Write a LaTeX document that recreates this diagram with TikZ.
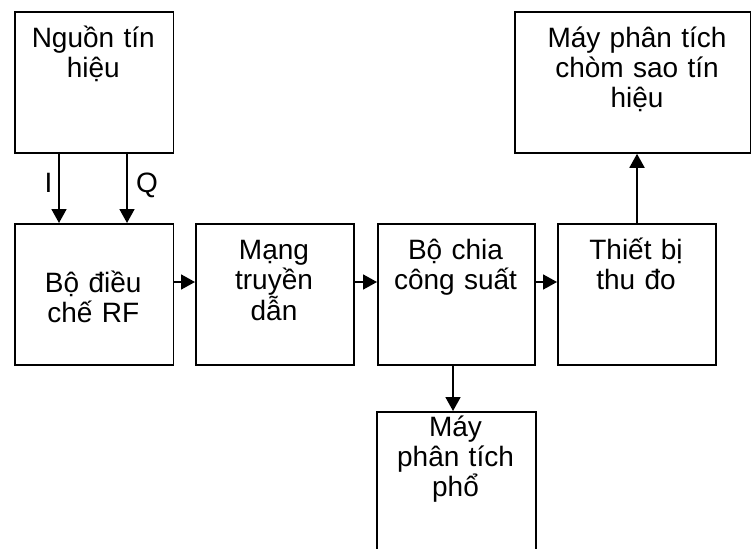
\documentclass[tikz,border=0pt]{standalone}
\usepackage{fontspec}
\setmainfont{Liberation Sans}
\usetikzlibrary{arrows.meta}
\tikzset{
  box/.style={draw, line width=1.8pt, inner sep=0pt, anchor=north west},
  lbl/.style={font=\fontsize{28}{30}\selectfont, text width=220pt, align=center, anchor=base, inner sep=0pt},
  conn/.style={line width=1.8pt, -{Triangle[length=14pt,width=15pt]}},
  iq/.style={font=\fontsize{28}{30}\selectfont, anchor=base, inner sep=0pt},
}
\begin{document}
\begin{tikzpicture}[x=1pt,y=-1pt]
\useasboundingbox (0,0) rectangle (751,548);
\clip (0,0) rectangle (751,548);
% boxes
\node[box, minimum width=158.5pt, minimum height=141pt] (src) at (14,11) {};
\node[box, minimum width=236pt, minimum height=141pt] (const) at (514,11) {};
\node[box, minimum width=158.5pt, minimum height=141pt] (mod) at (14,223) {};
\node[box, minimum width=158pt, minimum height=141pt] (net) at (195,223) {};
\node[box, minimum width=157pt, minimum height=141pt] (div) at (377,223) {};
\node[box, minimum width=158pt, minimum height=141pt] (rx) at (557,223) {};
\node[box, minimum width=159pt, minimum height=160pt] (spec) at (376,411) {};
% texts
\node[lbl] (srcT) at (93.25,48) {Nguồn tín\\hiệu};
\node[lbl] (constT) at (637,48) {Máy phân tích\\chòm sao tín\\hiệu};
\node[lbl] (modT) at (93.25,292) {Bộ điều\\chế RF};
\node[lbl] (netT) at (274,259) {Mạng\\truyền\\dẫn};
\node[lbl] (divT) at (455.5,259) {Bộ chia\\công suất};
\node[lbl] (rxT) at (636,259) {Thiết bị\\thu đo};
\node[lbl] (specT) at (455.5,436) {Máy\\phân tích\\phổ};
% connectors
\coordinate (iS) at (59,152);
\coordinate (iE) at (59,223);
\coordinate (qS) at (127,152);
\coordinate (qE) at (127,223);
\draw[conn] (iS) -- (iE);
\draw[conn] (qS) -- (qE);
\node[iq] (lI) at (48.5,192) {I};
\node[iq] (lQ) at (147,192) {Q};
\draw[conn] (mod.east |- 0,282) -- (net.west |- 0,282);
\draw[conn] (net.east |- 0,282) -- (div.west |- 0,282);
\draw[conn] (div.east |- 0,282) -- (rx.west |- 0,282);
\draw[conn] (rx.north -| 637,0) -- (const.south -| 637,0);
\draw[conn] (div.south -| 453,0) -- (spec.north -| 453,0);
\end{tikzpicture}
\end{document}
